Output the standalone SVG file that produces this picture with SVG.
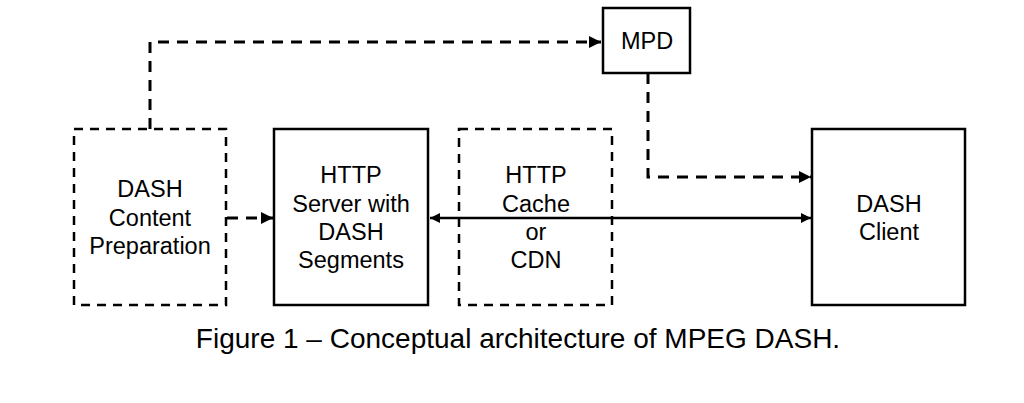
<svg xmlns="http://www.w3.org/2000/svg" width="1024" height="403" viewBox="0 0 1024 403">
<style>
.box{fill:#fff;stroke:#000;stroke-width:2.5}
.dbox{fill:none;stroke:#000;stroke-width:2.5;stroke-dasharray:9 7}
.dl{fill:none;stroke:#000;stroke-width:3;stroke-dasharray:11 8}
.sl{fill:none;stroke:#000;stroke-width:2.5}
text{font-family:"Liberation Sans",Arial,sans-serif;font-size:23.5px;fill:#000;text-anchor:middle}
.cap{font-size:28px}
</style>
<defs>
<marker id="ah" viewBox="0 0 10 10" refX="10" refY="5" markerWidth="4" markerHeight="4" orient="auto-start-reverse" markerUnits="strokeWidth">
<path d="M0,0 L10,5 L0,10 z" fill="#000"/>
</marker>
</defs>
<rect width="1024" height="403" fill="#fff"/>
<g id="connectors">
<path class="dl" d="M150,129 V42 H601" marker-end="url(#ah)"/>
<path class="dl" d="M648,73 V177 H811" marker-end="url(#ah)"/>
<path class="dl" d="M227,218 H273" marker-end="url(#ah)"/>
<path class="sl" d="M430,218 H811" marker-start="url(#ah)" marker-end="url(#ah)"/>
</g>
<g id="prep">
<rect class="dbox" x="74" y="129" width="152" height="176"/>
<text x="150" y="197">DASH</text>
<text x="150" y="226">Content</text>
<text x="150" y="254">Preparation</text>
</g>
<g id="server">
<rect class="box" x="274" y="129" width="154" height="176"/>
<text x="351" y="183">HTTP</text>
<text x="351" y="212">Server with</text>
<text x="351" y="240">DASH</text>
<text x="351" y="268">Segments</text>
</g>
<g id="cache">
<rect class="dbox" x="459" y="129" width="153" height="176"/>
<text x="536" y="183">HTTP</text>
<text x="536" y="212">Cache</text>
<text x="536" y="240">or</text>
<text x="536" y="268">CDN</text>
</g>
<g id="client">
<rect class="box" x="812" y="129" width="153" height="176"/>
<text x="889" y="212">DASH</text>
<text x="889" y="240">Client</text>
</g>
<g id="mpd">
<rect class="box" x="603" y="8" width="87" height="65"/>
<text x="647" y="49">MPD</text>
</g>
<text class="cap" x="518" y="348">Figure 1 – Conceptual architecture of MPEG DASH.</text>
</svg>
